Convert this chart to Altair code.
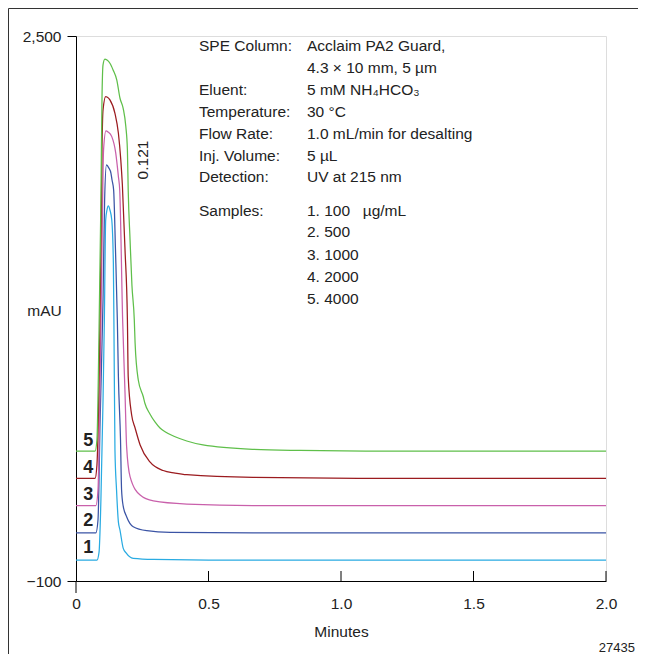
import altair as alt
import pandas as pd

# ---------------- data ----------------
TRACE_NAMES = ["1", "2", "3", "4", "5"]
TRACE_COLORS = ["#29abe2", "#3b54a5", "#c960ab", "#9b1b1f", "#5fbf4a"]
OFFSETS = [0, 130, 260, 390, 520]

T1 = [0, 0.079, 0.087, 0.094, 0.102, 0.107, 0.112, 0.117, 0.122, 0.128, 0.135, 0.141, 0.143,
      0.147, 0.153, 0.160, 0.166, 0.178, 0.189, 0.216, 0.292, 0.543, 2.0]
S1 = [0, 0, 38, 286, 764, 1145, 1622, 1670, 1689, 1670, 1622, 1417, 1145,
      525, 334, 181, 143, 57, 34, 8, 3, 0, 0]

T2 = [0, 0.075, 0.083, 0.091, 0.102, 0.108, 0.115, 0.124, 0.132, 0.136, 0.142, 0.149, 0.156,
      0.160, 0.168, 0.172, 0.178, 0.191, 0.216, 0.267, 0.355, 0.668, 2.0]
S2 = [0, 0, 61, 538, 1111, 1588, 1755, 1740, 1715, 1683, 1636, 1349, 1015,
      745, 443, 204, 128, 77, 29, 10, 2, 0, 0]

T3 = [0, 0.075, 0.083, 0.091, 0.098, 0.104, 0.113, 0.121, 0.135, 0.150, 0.160, 0.165, 0.176,
      0.185, 0.191, 0.204, 0.242, 0.292, 0.418, 0.668, 2.0]
S3 = [0, 0, 74, 599, 1219, 1696, 1787, 1782, 1760, 1681, 1569, 1505, 885,
      537, 281, 138, 50, 22, 7, 0, 0]

T4 = [0, 0.072, 0.079, 0.087, 0.094, 0.098, 0.102, 0.112, 0.117, 0.128, 0.147, 0.160, 0.169,
      0.175, 0.185, 0.194, 0.197, 0.210, 0.223, 0.242, 0.279, 0.329, 0.374, 0.418, 0.668, 1.147, 2.0]
S4 = [0, 0, 63, 469, 1089, 1566, 1757, 1821, 1819, 1805, 1741, 1646, 1519,
      1399, 1089, 755, 485, 302, 240, 159, 78, 37, 25, 17, 4, 0, 0]

T5 = [0, 0.072, 0.079, 0.087, 0.094, 0.098, 0.102, 0.109, 0.117, 0.128, 0.140, 0.154, 0.166,
      0.178, 0.188, 0.194, 0.197, 0.204, 0.211, 0.220, 0.223, 0.235, 0.254, 0.260, 0.279, 0.298,
      0.317, 0.336, 0.374, 0.418, 0.479, 0.668, 0.845, 1.147, 2.0]
S5 = [0, 0, 53, 578, 1198, 1675, 1842, 1870, 1865, 1850, 1818, 1770, 1683,
      1635, 1548, 1436, 1245, 1007, 792, 625, 515, 339, 259, 228, 177, 139,
      110, 92, 68, 48, 29, 8, 3, 0, 0]

X_TICKS = [0, 0.5, 1.0, 1.5, 2.0]
Y_TICKS = [-100, 2500]

INFO_LABELS = ["SPE Column:", "", "Eluent:", "Temperature:", "Flow Rate:", "Inj. Volume:", "Detection:"]
INFO_VALUES = ["Acclaim PA2 Guard,", "4.3 × 10 mm, 5 µm", "5 mM NH₄HCO₃", "30 °C",
               "1.0 mL/min for desalting", "5 µL", "UV at 215 nm"]
SAMPLE_LABEL = "Samples:"
SAMPLES = ["1. 100", "2. 500", "3. 1000", "4. 2000", "5. 4000"]
SAMPLE_UNIT = "µg/mL"
PEAK_LABEL = "0.121"
FIG_NUMBER = "27435"

# ---------------- build table ----------------
rows = []
for name, off, ts, ss in zip(TRACE_NAMES, OFFSETS, [T1, T2, T3, T4, T5], [S1, S2, S3, S4, S5]):
    for i, (t, s) in enumerate(zip(ts, ss)):
        rows.append({"trace": name, "t": t, "y": s + off, "i": i})
df = pd.DataFrame(rows)

FONT = "Liberation Sans, Arial, sans-serif"
FS = 15.5
W, H = 530, 545

xscale = alt.Scale(domain=[0, 2], nice=False, zero=False)
yscale = alt.Scale(domain=[-100, 2500], nice=False, zero=False)

lines = alt.Chart(df).mark_line(strokeWidth=1.25, interpolate="monotone").encode(
    x=alt.X("t:Q", scale=xscale, axis=alt.Axis(
        values=X_TICKS, ticks=False, tickSize=0, grid=False, labelFlush=False,
        labelExpr="datum.value == 0 ? '0' : format(datum.value, '.1f')",
        labelPadding=15, labelFontSize=FS, labelFont=FONT, labelColor="#222",
        domainColor="#000", domainWidth=1,
        title="Minutes", titleFont=FONT, titleFontSize=FS, titleFontWeight="normal",
        titleColor="#222", titleY=50, titleBaseline="middle")),
    y=alt.Y("y:Q", scale=yscale, axis=alt.Axis(
        values=Y_TICKS, tickSize=9, tickColor="#000", grid=False, labelFlush=False,
        labelExpr="datum.value == 2500 ? '2,500' : '\u2212100'",
        labelPadding=6, labelFontSize=FS, labelFont=FONT, labelColor="#222",
        domainColor="#000", domainWidth=1,
        title="mAU", titleFont=FONT, titleFontSize=FS, titleFontWeight="normal",
        titleColor="#222", titleAngle=0, titleX=-32, titleY=274,
        titleAlign="center", titleBaseline="middle")),
    color=alt.Color("trace:N", scale=alt.Scale(domain=TRACE_NAMES, range=TRACE_COLORS), legend=None),
    order=alt.Order("i:Q"),
)

# x ticks pointing up into the plot, and the 0 tick pointing down
tick_df = pd.DataFrame({"t": X_TICKS[1:]})
xticks = alt.Chart(tick_df).mark_rule(color="#000", strokeWidth=1).encode(
    x=alt.X("t:Q", scale=xscale), y=alt.value(H), y2=alt.value(H - 10))
zero_df = pd.DataFrame({"t": X_TICKS[:1]})
xtick0 = alt.Chart(zero_df).mark_rule(color="#000", strokeWidth=1).encode(
    x=alt.X("t:Q", scale=xscale), y=alt.value(H), y2=alt.value(H + 12))

one = pd.DataFrame({"a": [0]})


def txt(s, x, y, size=FS, align="left", weight="normal", angle=0, baseline="middle"):
    return alt.Chart(one).mark_text(text=s, font=FONT, fontSize=size, align=align,
                                    baseline=baseline, fontWeight=weight, angle=angle,
                                    color="#222").encode(x=alt.value(x), y=alt.value(y))


layers = [lines, xticks, xtick0]

PAD_L, PAD_T, PAD_R, PAD_B = 68, 28, 32, 73

# frame (left and top border of the figure)
frame_l = alt.Chart(one).mark_rule(color="#333", strokeWidth=1).encode(
    x=alt.value(-PAD_L + 0.5), y=alt.value(-PAD_T + 0.5), y2=alt.value(H + PAD_B))
frame_t = alt.Chart(one).mark_rule(color="#333", strokeWidth=1).encode(
    x=alt.value(-PAD_L + 0.5), x2=alt.value(W + PAD_R), y=alt.value(-PAD_T + 0.5))
layers += [frame_l, frame_t]

info_y = [9.7, 31.7, 54, 76, 98, 119.7, 141.3]
for lab, val, yy in zip(INFO_LABELS, INFO_VALUES, info_y):
    if lab:
        layers.append(txt(lab, 123, yy))
    if val:
        layers.append(txt(val, 231, yy))

sample_y = [174.7, 196.3, 218.5, 241, 263]
layers.append(txt(SAMPLE_LABEL, 123, sample_y[0]))
for s, yy in zip(SAMPLES, sample_y):
    layers.append(txt(s, 231, yy))
layers.append(txt(SAMPLE_UNIT, 286.7, sample_y[0]))

layers.append(txt(PEAK_LABEL, 67, 124, angle=270, align="center"))

num_y = [512.3, 484.7, 459, 432.3, 404.7]
for n, yy in zip(TRACE_NAMES, num_y):
    layers.append(txt(n, 12.3, yy, size=18, weight="bold", align="center"))

layers.append(txt(FIG_NUMBER, 559, 612, size=13, align="right"))

chart = alt.layer(*layers).properties(
    width=W, height=H,
    padding={"left": PAD_L, "top": PAD_T, "right": PAD_R, "bottom": PAD_B},
    autosize=alt.AutoSizeParams(type="none"),
).configure_view(stroke=None).configure(background="white")

chart.save("out.html", embed_options={"renderer": "svg", "actions": False})
